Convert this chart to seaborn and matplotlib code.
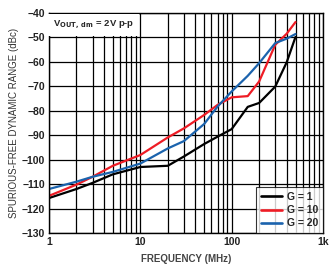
import numpy as np
import pandas as pd
import matplotlib
matplotlib.use("Agg")
import matplotlib.pyplot as plt
import seaborn as sns

# frequencies (MHz) and SFDR (dBc)
freq = [1, 2, 3, 5, 10, 20, 30, 50, 70, 100, 150, 200, 300, 400, 500]
sfdr_g1 = [-115.7, -112, -109.5, -106, -103, -102.5, -98.7, -93.6, -90.6, -87.5,
           -78.4, -76.8, -70.1, -60.2, -49.8]
sfdr_g10 = [-114.8, -110.2, -107, -102.5, -98.1, -90.9, -87.2, -81.7, -77.6, -74.5,
            -74, -68, -53, -48.5, -43.7]
sfdr_g20 = [-112, -109, -107, -105, -101.6, -95.4, -92.4, -85.4, -78.3, -72.1,
            -65.7, -60.5, -52.3, -50.5, -48.6]
labels = ["G = 1", "G = 10", "G = 20"]
colors = ["#000000", "#ee1c25", "#1b63ad"]

df = pd.DataFrame({
    "freq": freq * 3,
    "sfdr": sfdr_g1 + sfdr_g10 + sfdr_g20,
    "gain": [labels[0]] * len(freq) + [labels[1]] * len(freq) + [labels[2]] * len(freq),
})

sns.set_style("white")
plt.rcParams["font.family"] = ["Liberation Sans", "DejaVu Sans"]
plt.rcParams["axes.unicode_minus"] = True

fig = plt.figure(figsize=(3.35, 2.68), dpi=100)
ax = fig.add_axes([49 / 335, 1 - 233 / 268, 274 / 335, 220 / 268])

sns.lineplot(data=df, x="freq", y="sfdr", hue="gain", palette=colors,
             linewidth=1.6, ax=ax, legend=True)

ax.set_xscale("log")
ax.set_xlim(1, 1000)
ax.set_ylim(-130, -40)
ax.set_yticks(np.arange(-130, -39, 10))
ax.set_xticks([1, 10, 100, 1000])
ax.set_xticklabels(["1", "10", "100", "1k"])
ax.xaxis.set_minor_locator(matplotlib.ticker.LogLocator(base=10, subs=np.arange(2, 10)))
ax.xaxis.set_minor_formatter(matplotlib.ticker.NullFormatter())
ax.grid(True, which="both", color="black", linewidth=0.9)
ax.set_axisbelow(True)
for s in ax.spines.values():
    s.set_color("black")
    s.set_linewidth(1.0)
ax.tick_params(axis="both", which="both", length=0, labelsize=7.5, pad=3)
for t in ax.get_xticklabels() + ax.get_yticklabels():
    t.set_fontweight("bold")
    t.set_color("#222222")

ax.set_xlabel("FREQUENCY (MHz)", fontsize=7, fontweight="bold", color="#444444", labelpad=5)
ax.set_ylabel("SPURIOUS-FREE DYNAMIC RANGE (dBc)", fontsize=7, color="#333333", labelpad=2)

leg = ax.legend(loc="lower right", fontsize=7.5, frameon=True, fancybox=False,
                handlelength=2.0, borderpad=0.45, labelspacing=0.3,
                handletextpad=0.5, borderaxespad=0)
leg.get_frame().set_edgecolor("black")
leg.get_frame().set_linewidth(0.8)
for t in leg.get_texts():
    t.set_fontweight("bold")
for h in leg.get_lines():
    h.set_linewidth(1.9)

ax.text(0.015, 0.975, r"V$_{\mathbf{OUT,\ dm}}$ = 2V p-p", transform=ax.transAxes,
        ha="left", va="top", fontsize=6.8, fontweight="bold", zorder=5,
        bbox=dict(facecolor="white", edgecolor="none", pad=3.5))

fig.savefig("out.png", dpi=100)
